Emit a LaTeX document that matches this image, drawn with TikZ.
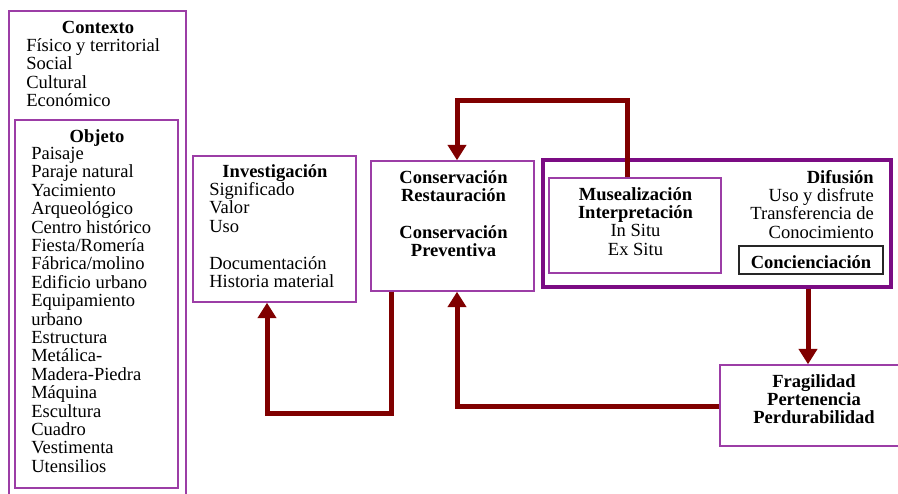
\documentclass[tikz,border=0pt]{standalone}
\usepackage{fontspec}
\setmainfont{Liberation Serif}
\usetikzlibrary{arrows.meta,fit}
\definecolor{boxpurple}{HTML}{9C3DA6}
\definecolor{difpurple}{HTML}{7B0C83}
\definecolor{arrowred}{HTML}{800000}
\begin{document}
\begin{tikzpicture}[x=0.75pt,y=-0.75pt,
  font=\fontsize{13.9}{13.8}\selectfont,
  box/.style={draw=boxpurple, line width=1.1pt, inner sep=0pt},
  thickbox/.style={draw=difpurple, line width=2.7pt, inner sep=0pt},
  blackbox/.style={draw=black!85, line width=1.1pt, inner sep=0pt},
  txtl/.style={inner sep=0pt, anchor=base west, align=left},
  txtc/.style={inner sep=0pt, anchor=base, align=center},
  txtr/.style={inner sep=0pt, anchor=base east, align=right},
  arr/.style={draw=arrowred, line width=3.75pt, line join=miter,
    -{Triangle[length=11.5pt,width=13.5pt]}}]
\useasboundingbox[fill=white] (0,0) rectangle (898,493);

% boxes
\node[box, fit={(9,11) (186,497)}] (ctx) {};
\node[box, fit={(15,120) (178,488)}] (obj) {};
\node[box, fit={(193,156) (356,302)}] (inv) {};
\node[box, fit={(371,161) (534,291)}] (cons) {};
\node[thickbox, fit={(543,160) (891,287)}] (dif) {};
\node[box, fit={(549,178) (721,273)}] (mus) {};
\node[blackbox, fit={(739,246) (883,274)}] (conc) {};
\node[box, fit={(720,365) (902,446)}] (fra) {};

% texts (base anchor = baseline of the last line)
\node[txtc] (ctxh) at (98,33) {\bfseries Contexto};
\node[txtl] (ctxl) at (26,106.7) {Físico y territorial\\Social\\Cultural\\Económico};
\node[txtc] (objh) at (97,142) {\bfseries Objeto};
\node[txtl] (objl) at (31,472.3) {Paisaje\\Paraje natural\\Yacimiento\\Arqueológico\\Centro histórico\\Fiesta/Romería\\Fábrica/molino\\Edificio urbano\\Equipamiento\\urbano\\Estructura\\Metálica-\\Madera-Piedra\\Máquina\\Escultura\\Cuadro\\Vestimenta\\Utensilios};
\node[txtc] (invh) at (275,177) {\bfseries Investigación};
\node[txtl] (invl) at (209,287.5) {Significado\\Valor\\Uso\\[13.8pt]Documentación\\Historia material};
\node[txtc] (consl) at (453.5,256.6) {\bfseries Conservación\\\bfseries Restauración\\[13.8pt]\bfseries Conservación\\\bfseries Preventiva};
\node[txtc] (musl) at (635.5,255.2) {\bfseries Musealización\\\bfseries Interpretación\\In Situ\\Ex Situ};
\node[txtr] (difl) at (874,238.2) {\bfseries Difusión\\Uso y disfrute\\Transferencia de\\Conocimiento};
\node[txtc] (concl) at (811,268.5) {\bfseries Concienciación};
\node[txtc] (fral) at (814,423.8) {\bfseries Fragilidad\\\bfseries Pertenencia\\\bfseries Perdurabilidad};

% connector helper coordinates
\coordinate (x627) at (627,100);
\coordinate (x457) at (457,100);
\coordinate (y413a) at (391,413);
\coordinate (y413b) at (267,413);
\coordinate (y406) at (457,406);
\coordinate (x808) at (808,0);

% connectors
\draw[arr] (mus.north -| x627) -- (x627) -- (x457) -- (cons.north -| x457);
\draw[arr] (cons.south -| y413a) -- (y413a) -- (y413b) -- (inv.south -| y413b);
\draw[arr] (fra.west |- y406) -- (y406) -- (cons.south -| y406);
\draw[arr] (dif.south -| x808) -- (fra.north -| x808);
\end{tikzpicture}
\end{document}
